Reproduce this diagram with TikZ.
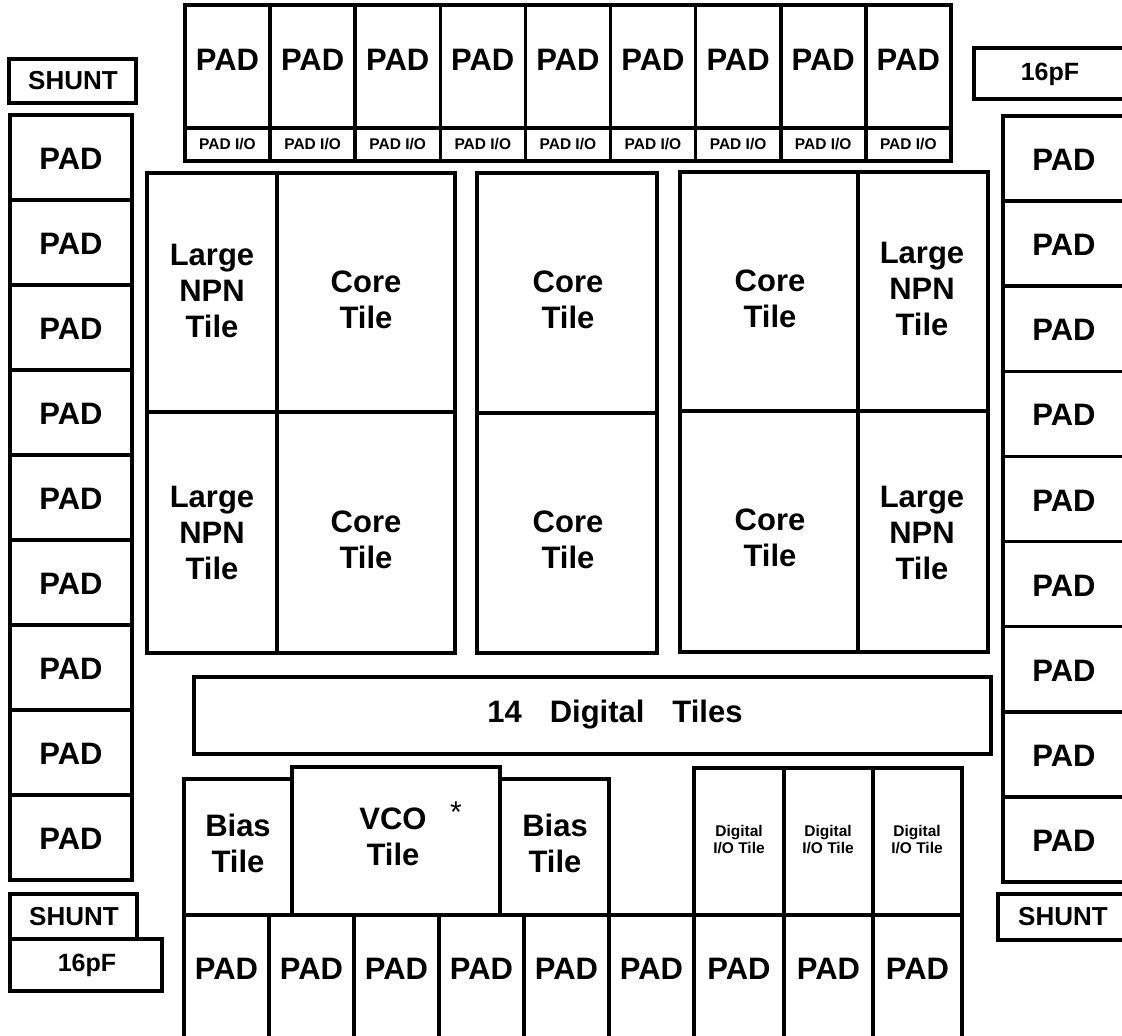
\documentclass[tikz,border=0pt]{standalone}
\usepackage{fontspec}
\setmainfont{Liberation Sans}

\begin{document}
\begin{tikzpicture}[x=1pt,y=-1pt,
  box/.style={line width=3.6pt},
  padtext/.style={font=\fontsize{31}{31}\selectfont\bfseries},
  captext/.style={font=\fontsize{25}{25}\selectfont\bfseries},
  shunttext/.style={font=\fontsize{26}{26}\selectfont\bfseries},
  tiletext/.style={font=\fontsize{31}{36}\selectfont\bfseries,align=center},
  iotext/.style={font=\fontsize{15.5}{17}\selectfont\bfseries,align=center}]
\useasboundingbox (0,0) rectangle (1122,1036);
% top row of pads
\foreach \i in {0,...,8} {
  \draw[box] (185+85.1*\i,5) rectangle (270.1+85.1*\i,128);
  \draw[box] (185+85.1*\i,128) rectangle (270.1+85.1*\i,161);
  \node[padtext] (tpad\i) at (227.5+85.1*\i,60) {PAD};
  \node[iotext] (tio\i) at (227.5+85.1*\i,144.5) {PAD I/O};
}
% left and right columns of pads
\foreach \i in {0,...,8} {
  \draw[box] (10,115+85*\i) rectangle (132,200+85*\i);
  \node[padtext] (lpad\i) at (71,159+85*\i) {PAD};
  \draw[box] (1003,116+85.1*\i) rectangle (1126,201.1+85.1*\i);
  \node[padtext] (rpad\i) at (1064,160+85.1*\i) {PAD};
}
% caps and shunts
\draw[box] (9,59) rectangle (136,103);
\node[shunttext] (shuntTL) at (73,81) {SHUNT};
\draw[box] (974,48) rectangle (1126,99);
\node[captext] (capTR) at (1050,74) {16pF};
\draw[box] (10,894) rectangle (137,939);
\node[shunttext] (shuntBL) at (74,917) {SHUNT};
\draw[box] (10,939) rectangle (162,991);
\node[captext] (capBL) at (87,965) {16pF};
\draw[box] (998,894) rectangle (1126,940);
\node[shunttext] (shuntBR) at (1063,917) {SHUNT};
% core blocks
\draw[box] (147,173) rectangle (455,653);
\draw[box] (277,173) -- (277,653);
\draw[box] (147,412) -- (455,412);
\draw[box] (477,173) rectangle (657,653);
\draw[box] (477,413) -- (657,413);
\draw[box] (680,172) rectangle (988,652);
\draw[box] (858,172) -- (858,652);
\draw[box] (680,411) -- (988,411);
\node[tiletext] (npnA) at (212,291) {Large\\NPN\\Tile};
\node[tiletext] (coreA) at (366,300) {Core\\Tile};
\node[tiletext] (coreB) at (568,300) {Core\\Tile};
\node[tiletext] (coreC) at (770,299) {Core\\Tile};
\node[tiletext] (npnB) at (922,289) {Large\\NPN\\Tile};
\node[tiletext] (npnC) at (212,533) {Large\\NPN\\Tile};
\node[tiletext] (coreD) at (366,540) {Core\\Tile};
\node[tiletext] (coreE) at (568,540) {Core\\Tile};
\node[tiletext] (coreF) at (770,538) {Core\\Tile};
\node[tiletext] (npnD) at (922,533) {Large\\NPN\\Tile};
% digital tiles
\draw[box] (194,677) rectangle (991,754);
\node[tiletext] (digital) at (615,715) {14\hspace{0.9em}Digital\hspace{0.9em}Tiles};
% bias, vco and digital i/o
\draw[box] (184,779) rectangle (292,915);
\draw[box] (292,767) rectangle (500,915);
\draw[box] (500,779) rectangle (609,915);
\node[tiletext] (biasA) at (238,843) {Bias\\Tile};
\node[tiletext] (vco) at (393,837) {VCO\\Tile};
\node[font=\fontsize{30}{30}\selectfont] (vcostar) at (456,812) {*};
\node[tiletext] (biasB) at (555,843) {Bias\\Tile};
\draw[box] (694,768) rectangle (962,915);
\draw[box] (784,768) -- (784,915);
\draw[box] (873,768) -- (873,915);
\node[iotext] (dioA) at (739,840) {Digital\\I/O Tile};
\node[iotext] (dioB) at (828,840) {Digital\\I/O Tile};
\node[iotext] (dioC) at (917,840) {Digital\\I/O Tile};
% bottom row of pads
\draw[box] (184,915) -- (962,915);
\foreach \xa/\xb [count=\i] in {184/269,269/354,354/439,439/524,524/609,609/694,694/784,784/873,873/962} {
  \draw[box] (\xa,915) rectangle (\xb,1050);
  \node[padtext] (bpad\i) at ({(\xa+\xb)/2},969) {PAD};
}
\end{tikzpicture}
\end{document}
